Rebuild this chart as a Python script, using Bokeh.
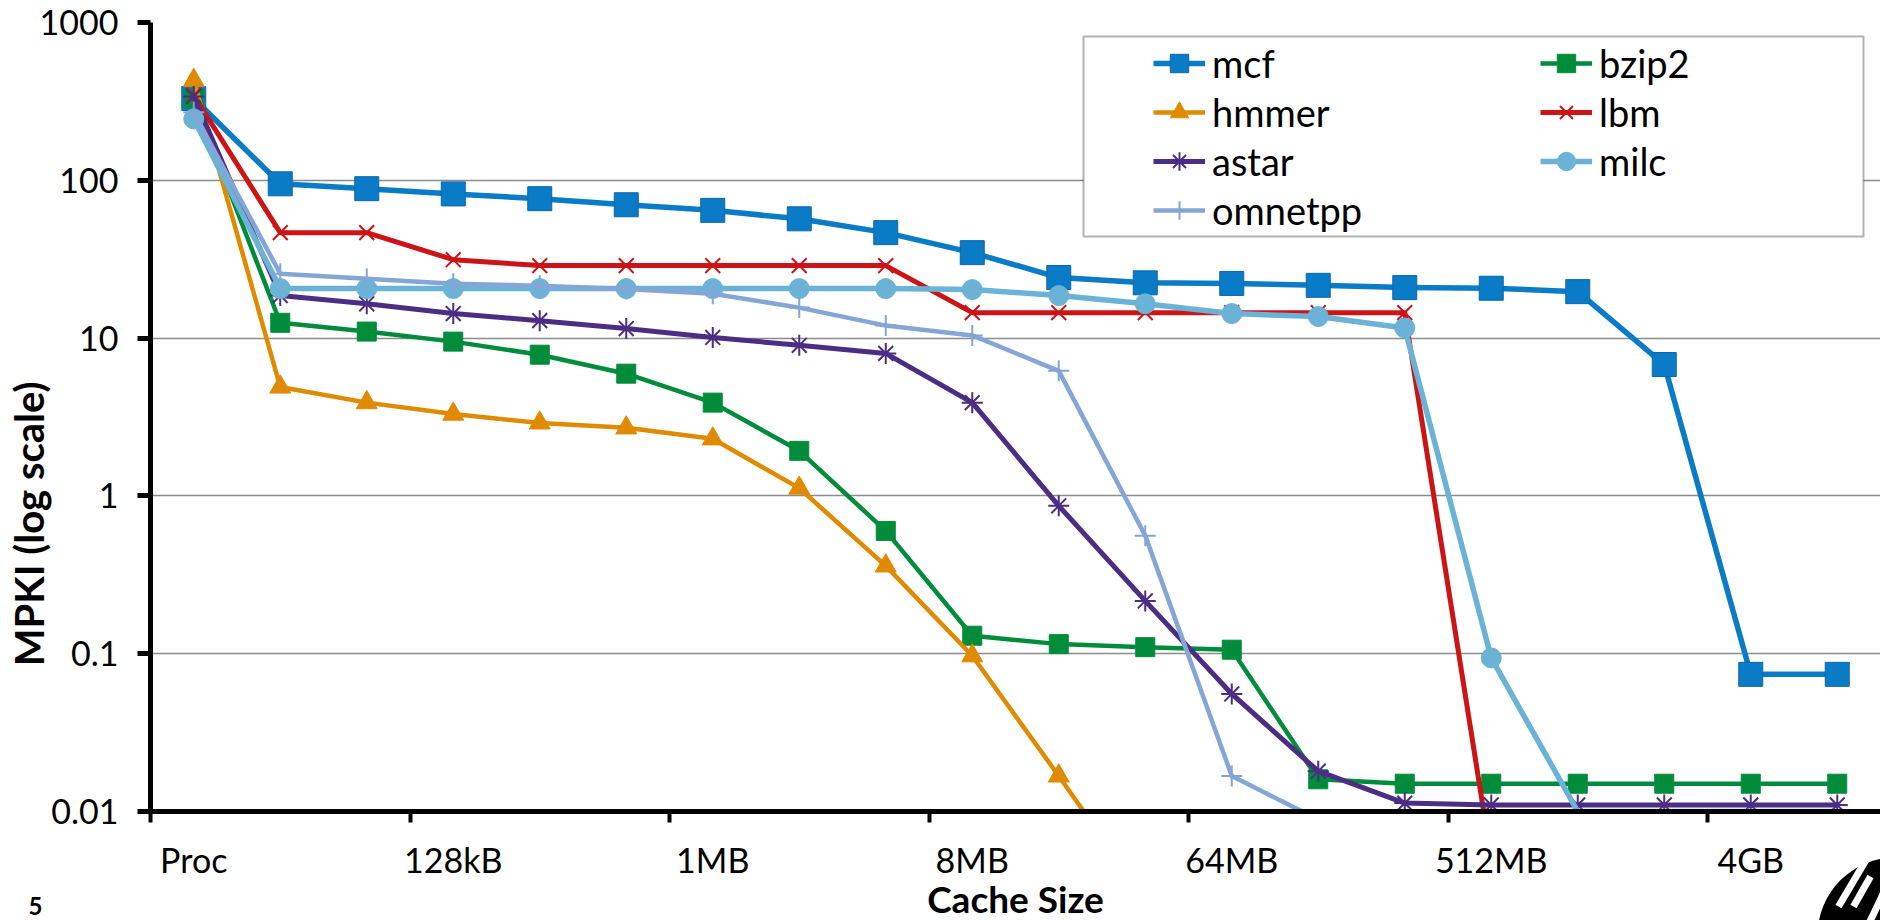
import math
from bokeh.plotting import figure
from bokeh.layouts import column
from bokeh.models import (FixedTicker, Legend, LegendItem, BoxAnnotation,
                          ColumnDataSource, Range1d)
from bokeh.core.properties import value
from bokeh.embed import file_html
from bokeh.resources import INLINE

# ---------------- data ----------------
categories = ["Proc", "32kB", "64kB", "128kB", "256kB", "512kB", "1MB", "2MB",
              "4MB", "8MB", "16MB", "32MB", "64MB", "128MB", "256MB", "512MB",
              "1GB", "2GB", "4GB", "8GB"]

mcf = [330, 95, 88.5, 82, 76.5, 70, 64.5, 57, 46.6, 34.8, 24.2, 22.4, 22.2,
       21.6, 20.9, 20.7, 19.7, 6.8, 0.074, 0.074]
bzip2 = [330, 12.5, 11.0, 9.5, 7.85, 5.95, 3.9, 1.93, 0.60, 0.130, 0.115,
         0.110, 0.106, 0.016, 0.015, 0.015, 0.015, 0.015, 0.015, 0.015]
hmmer = [430, 4.9, 3.9, 3.3, 2.9, 2.7, 2.3, 1.12, 0.36, 0.097, 0.0168, 0.0028,
         0.002, 0.002, 0.002, 0.002, 0.002, 0.002, 0.002, 0.002]
lbm = [345, 46.6, 46.6, 31.4, 28.8, 28.8, 28.8, 28.8, 28.8, 14.5, 14.5, 14.5,
       14.5, 14.5, 14.5, 0.005, 0.005, 0.005, 0.005, 0.005]
astar = [340, 18.6, 16.5, 14.3, 12.9, 11.5, 10.1, 9.0, 8.0, 3.9, 0.865, 0.216,
         0.0556, 0.018, 0.0113, 0.011, 0.011, 0.011, 0.011, 0.011]
milc = [245, 20.6, 20.6, 20.6, 20.6, 20.6, 20.6, 20.6, 20.6, 20.3, 18.6, 16.5,
        14.3, 13.7, 11.6, 0.094, 0.01, 0.01, 0.01, 0.01]
omnetpp = [270, 25.6, 23.8, 22.1, 21.5, 20.5, 19.1, 15.6, 12.0, 10.4, 6.2, 0.56,
           0.0168, 0.0089, 0.005, 0.005, 0.005, 0.005, 0.005, 0.005]

series_names = ["mcf", "bzip2", "hmmer", "lbm", "astar", "milc", "omnetpp"]
series_values = [mcf, bzip2, hmmer, lbm, astar, milc, omnetpp]

y_ticks = [0.01, 0.1, 1, 10, 100, 1000]
y_tick_labels = ["0.01", "0.1", "1", "10", "100", "1000"]
label_step = 3

x_title = "Cache Size"
y_title = "MPKI (log scale)"
slide_number = "5"

# ---------------- styles ----------------
styles = {
    "mcf":     dict(color="#0A7BC6", edge="#0868AA", marker="square",   size=24, lw=5.5, mlw=1),
    "bzip2":   dict(color="#008C3A", edge="#008C3A", marker="square",   size=19, lw=4.5, mlw=1),
    "hmmer":   dict(color="#DF8A00", edge="#DF8A00", marker="triangle", size=21, lw=4.5, mlw=1),
    "lbm":     dict(color="#CC1417", edge="#CC1417", marker="x",        size=21, lw=5,   mlw=2),
    "astar":   dict(color="#4B2E83", edge="#4B2E83", marker="asterisk", size=21, lw=5,   mlw=2),
    "milc":    dict(color="#6BB3D6", edge="#6BB3D6", marker="circle",   size=20, lw=5.5, mlw=1),
    "omnetpp": dict(color="#84A6D6", edge="#84A6D6", marker="cross",    size=21, lw=4.5, mlw=2),
}

FONT = "Lato"
W, H = 1880, 920
FRAME_LEFT, FRAME_TOP, FRAME_BOTTOM = 150, 22, 811
MAIN_H = FRAME_BOTTOM + 22
STRIP_H = H - MAIN_H
n = len(categories)
label_idx = list(range(0, n, label_step))

# ---------------- main plot ----------------
p = figure(width=W, height=MAIN_H, y_axis_type="log",
           x_range=Range1d(-0.5, n - 0.5), y_range=Range1d(y_ticks[0], y_ticks[-1]),
           output_backend="svg", toolbar_location=None,
           min_border_left=FRAME_LEFT, min_border_right=0, min_border_top=FRAME_TOP,
           min_border_bottom=MAIN_H - FRAME_BOTTOM)
p.outline_line_color = None
p.xgrid.visible = False
p.ygrid.ticker = FixedTicker(ticks=y_ticks, minor_ticks=[])
p.ygrid.grid_line_color = "#8C8C8C"
p.ygrid.grid_line_width = 1.5

# y axis
yax = p.yaxis[0]
yax.ticker = FixedTicker(ticks=y_ticks, minor_ticks=[])
yax.major_label_overrides = dict(zip(y_ticks, y_tick_labels))
yax.axis_line_width = 5
yax.axis_line_color = "black"
yax.major_tick_line_width = 5
yax.major_tick_out = 13
yax.major_tick_in = 0
yax.minor_tick_line_color = None
yax.major_label_text_font = FONT
yax.major_label_text_font_size = "34px"
yax.major_label_text_color = "black"
yax.major_label_standoff = 19
yax.axis_label = y_title + "\u00a0" * 22
yax.axis_label_standoff = -16
yax.axis_label_text_font = FONT
yax.axis_label_text_font_style = "bold"
yax.axis_label_text_font_size = "40px"
yax.axis_label_text_color = "black"

# x axis: only tick marks between category groups (labels are drawn in the strip below)
xax = p.xaxis[0]
xax.ticker = FixedTicker(ticks=[i - 0.5 for i in label_idx], minor_ticks=[])
xax.major_label_text_font_size = "0px"
xax.major_label_text_color = None
xax.major_label_standoff = 0
xax.axis_line_width = 5
xax.axis_line_color = "black"
xax.major_tick_line_color = "black"
xax.major_tick_line_width = 4
xax.major_tick_out = 11
xax.major_tick_in = 0
xax.minor_tick_line_color = None

# ---------------- series ----------------
rend = {}
for name, vals in zip(series_names, series_values):
    st = styles[name]
    src = ColumnDataSource(dict(x=list(range(n)), y=vals))
    lr = p.line("x", "y", source=src, line_color=st["color"], line_width=st["lw"],
                line_join="round")
    shown = [(i, v) for i, v in enumerate(vals) if v > y_ticks[0]]
    msrc = ColumnDataSource(dict(x=[s_[0] for s_ in shown], y=[s_[1] for s_ in shown]))
    sr = p.scatter("x", "y", source=msrc, marker=st["marker"], size=st["size"],
                   fill_color=st["color"], line_color=st["edge"], line_width=st["mlw"])
    rend[name] = (lr, sr)

# ---------------- legend ----------------
box = BoxAnnotation(left=933, right=1713, bottom=575, top=775,
                    left_units="screen", right_units="screen",
                    top_units="screen", bottom_units="screen",
                    fill_color="white", fill_alpha=1.0,
                    line_color="black", line_width=2)
p.add_layout(box)

legend_order = ["mcf", "hmmer", "astar", "omnetpp", "bzip2", "lbm", "milc"]
items = [LegendItem(label=nm, renderers=list(rend[nm])) for nm in legend_order]
legend = Legend(items=items, ncols=2, orientation="vertical", location=(1003, 578),
                glyph_width=52, glyph_height=46, label_height=40, label_width=325,
                label_standoff=7, spacing=3, padding=0, margin=0,
                border_line_color=None, background_fill_alpha=0,
                label_text_font=FONT, label_text_font_size="38px",
                label_text_color="black")
p.add_layout(legend, "center")

# ---------------- bottom strip: category labels, x title, slide number ----------------
s = figure(width=W, height=STRIP_H, x_range=p.x_range, y_range=Range1d(0, STRIP_H),
           output_backend="svg", toolbar_location=None,
           min_border_left=FRAME_LEFT, min_border_right=0,
           min_border_top=0, min_border_bottom=0)
s.xaxis.visible = False
s.grid.visible = False
s.outline_line_color = None

s.text(x=label_idx, y=[H - 859] * len(label_idx),
       text=[categories[i] for i in label_idx],
       text_font=value(FONT), text_font_size="34px", text_color="black",
       text_align="center", text_baseline="middle")
s.text(x=[(n - 1) / 2], y=[22], text=[x_title],
       text_font=value(FONT), text_font_style="bold", text_font_size="37px",
       text_align="center", text_baseline="middle", text_color="black")

# HP logo (decoration) in the bottom-right corner, given in canvas pixels
unit = (W - FRAME_LEFT) / n
def dx(px):
    return -0.5 + (px - FRAME_LEFT) / unit
def dy(py):
    return H - py
s.scatter(x=[dx(1895)], y=[dy(935)], marker="circle", size=156,
          fill_color="black", line_color=None)
s.segment(x0=[dx(1838), dx(1853), dx(1869)], y0=[dy(906), dy(906), dy(922)],
          x1=[dx(1867), dx(1870), dx(1887)], y1=[dy(857), dy(876), dy(884)],
          line_color="white", line_width=7)

# slide number, shown as the single tick label of the strip's left axis
sy = s.yaxis[0]
sy.ticker = FixedTicker(ticks=[dy(905)], minor_ticks=[])
sy.major_label_overrides = {dy(905): slide_number}
sy.axis_line_color = None
sy.major_tick_line_color = None
sy.minor_tick_line_color = None
sy.major_tick_out = 0
sy.major_tick_in = 0
sy.major_label_standoff = 108
sy.major_label_text_font = FONT
sy.major_label_text_font_style = "bold"
sy.major_label_text_font_size = "24px"
sy.major_label_text_color = "black"

layout = column(p, s, spacing=0)
open("out.html", "w").write(file_html(layout, INLINE))
